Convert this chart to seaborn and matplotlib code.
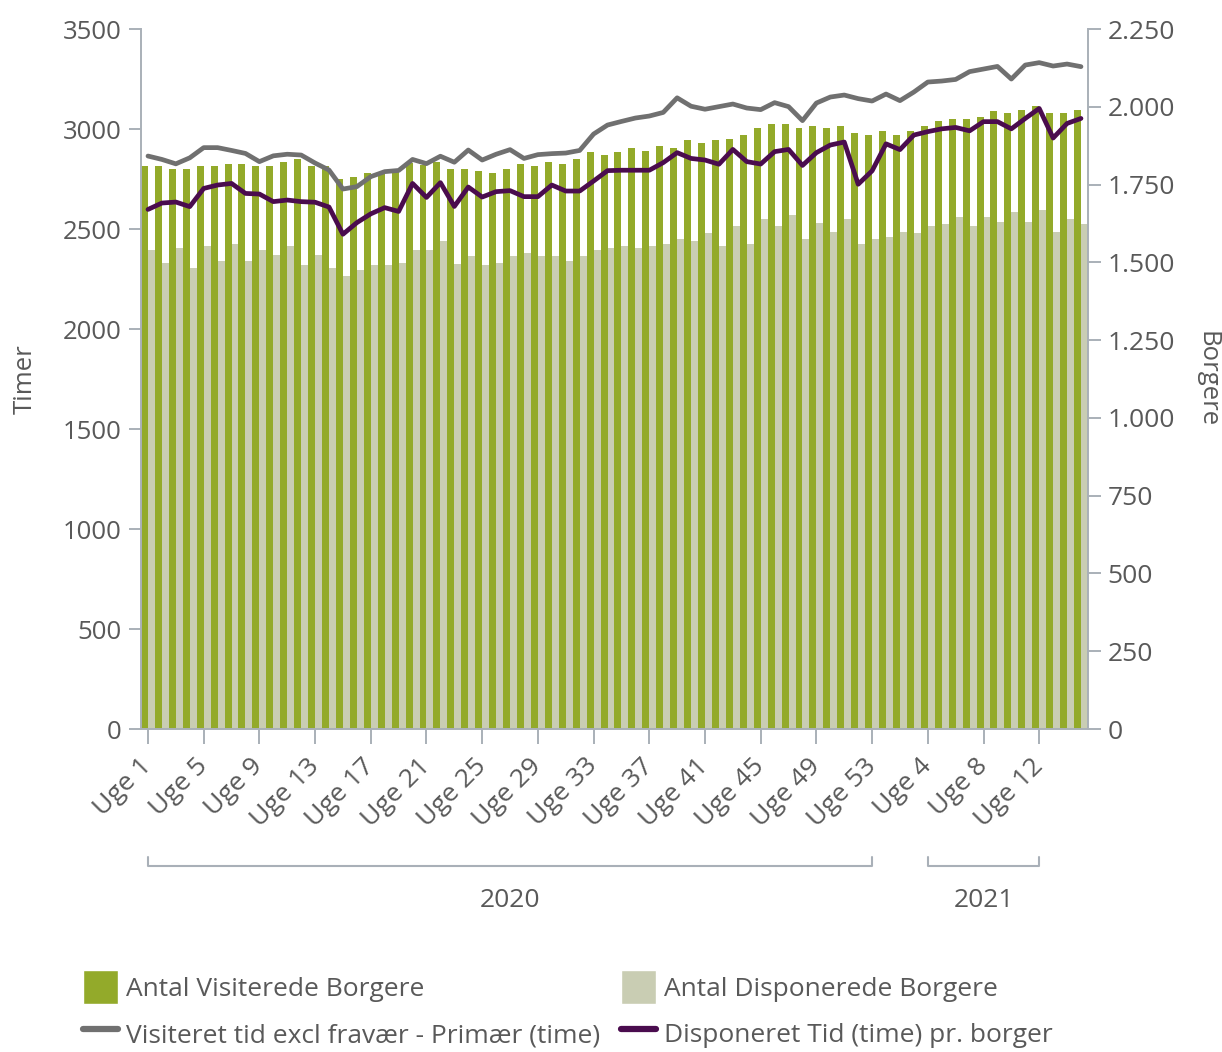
import numpy as np
import pandas as pd
import matplotlib
matplotlib.use("Agg")
import matplotlib.pyplot as plt
from matplotlib.patches import Patch
from matplotlib.lines import Line2D
from matplotlib.ticker import FuncFormatter
import seaborn as sns

# ---------------- data ----------------
weeks_2020 = list(range(1, 54))
weeks_2021 = list(range(1, 16))
week_labels = [f"Uge {w}" for w in weeks_2020 + weeks_2021]
years = ["2020"] * len(weeks_2020) + ["2021"] * len(weeks_2021)

# Left axis (Timer) - lines
visiteret_tid = [
    2865, 2848, 2826, 2856, 2907, 2907, 2893, 2878, 2837, 2866,
    2874, 2870, 2830, 2795, 2700, 2712, 2762, 2787, 2793, 2848,
    2827, 2864, 2834, 2895, 2845, 2874, 2897, 2853, 2872, 2877,
    2880, 2893, 2975, 3020, 3038, 3055, 3065, 3083, 3156, 3114,
    3099, 3112, 3125, 3105, 3097, 3132, 3112, 3042, 3130, 3160,
    3170, 3152, 3140, 3175, 3142, 3185, 3235, 3240, 3248, 3287,
    3300, 3313, 3250, 3320, 3332, 3315, 3325, 3312]
disponeret_tid = [
    2598, 2630, 2635, 2612, 2703, 2720, 2728, 2678, 2675, 2637,
    2645, 2637, 2634, 2610, 2474, 2532, 2576, 2607, 2588, 2728,
    2658, 2732, 2613, 2710, 2660, 2687, 2692, 2662, 2662, 2720,
    2690, 2690, 2740, 2792, 2794, 2794, 2794, 2832, 2882, 2853,
    2845, 2824, 2898, 2837, 2825, 2887, 2898, 2818, 2882, 2920,
    2935, 2724, 2791, 2926, 2897, 2970, 2987, 3001, 3008, 2991,
    3037, 3037, 3001, 3053, 3103, 2955, 3028, 3053]

# Right axis (Borgere) - bars
visiterede_borgere = [
    1810, 1810, 1799, 1799, 1810, 1810, 1816, 1816, 1810, 1810,
    1822, 1832, 1810, 1810, 1768, 1775, 1786, 1786, 1791, 1818,
    1813, 1824, 1799, 1799, 1794, 1788, 1799, 1816, 1811, 1822,
    1816, 1833, 1856, 1845, 1856, 1868, 1857, 1874, 1868, 1892,
    1885, 1892, 1897, 1909, 1933, 1945, 1945, 1933, 1939, 1933,
    1939, 1915, 1909, 1921, 1909, 1921, 1938, 1956, 1962, 1962,
    1968, 1985, 1980, 1991, 2003, 1980, 1980, 1991]
disponerede_borgere = [
    1540, 1499, 1545, 1481, 1553, 1504, 1558, 1504, 1540, 1523,
    1553, 1491, 1523, 1481, 1456, 1475, 1491, 1491, 1499, 1540,
    1540, 1569, 1496, 1522, 1493, 1499, 1522, 1529, 1522, 1522,
    1504, 1522, 1540, 1545, 1553, 1545, 1553, 1558, 1575, 1569,
    1593, 1553, 1617, 1558, 1640, 1617, 1651, 1574, 1627, 1599,
    1639, 1558, 1574, 1580, 1599, 1593, 1616, 1623, 1647, 1617,
    1647, 1630, 1663, 1630, 1668, 1599, 1640, 1623]

left_ticks = list(range(0, 3501, 500))
right_ticks = list(range(0, 2251, 250))
tick_every = 4

series_bar = ["Antal Visiterede Borgere", "Antal Disponerede Borgere"]
series_line = ["Visiteret tid excl fravær - Primær (time)",
               "Disponeret Tid (time) pr. borger"]

# ---------------- style ----------------
sns.set_theme(style="ticks")
plt.rcParams['font.family'] = ['Open Sans', 'DejaVu Sans']

TXT = "#595959"
AXC = "#a9b0b8"
GREEN = "#93aa2a"
LGREY = "#c9cdb3"
LINE_GREY = "#707070"
PURPLE = "#4a0c4e"

fig = plt.figure(figsize=(12.22, 10.52), dpi=100)
ax = fig.add_axes([0.1154, 0.3070, 0.7749, 0.6654])
ax2 = ax.twinx()

n = len(week_labels)
idx = np.arange(n)

bars = pd.DataFrame({
    "idx": np.concatenate([idx, idx]),
    "value": visiterede_borgere + disponerede_borgere,
    "serie": [series_bar[0]] * n + [series_bar[1]] * n,
})
sns.barplot(data=bars, x="idx", y="value", hue="serie", hue_order=series_bar,
            palette=[GREEN, LGREY], native_scale=True, dodge=True, width=1.0,
            gap=0, saturation=1, errorbar=None, linewidth=0, legend=False, ax=ax2)

sns.lineplot(x=idx, y=visiteret_tid, color=LINE_GREY, lw=3.4, ax=ax)
sns.lineplot(x=idx, y=disponeret_tid, color=PURPLE, lw=3.4, ax=ax)

ax.set_zorder(ax2.get_zorder() + 1)
ax.patch.set_visible(False)

ax.set_xlim(-0.5, n - 0.5)
ax.set_ylim(0, 3500)
ax2.set_ylim(0, 2250)

ax.set_yticks(left_ticks)
ax.set_yticklabels([str(v) for v in left_ticks])
ax2.set_yticks(right_ticks)
ax2.yaxis.set_major_formatter(FuncFormatter(lambda v, p: f"{int(v):,}".replace(",", ".")))

xt = list(range(0, n, tick_every))
ax.set_xticks(xt)
ax.set_xticklabels([week_labels[i] for i in xt], rotation=45, ha="right",
                   va="center", rotation_mode="anchor")

for s in ["top", "right"]:
    ax.spines[s].set_visible(False)
for s in ["top", "left", "bottom"]:
    ax2.spines[s].set_visible(False)
for sp in [ax.spines["left"], ax.spines["bottom"], ax2.spines["right"]]:
    sp.set_color(AXC)
    sp.set_linewidth(1.4)

ax.tick_params(axis="y", left=True, length=9, width=1.4, color=AXC,
               labelcolor=TXT, labelsize=18.5, pad=5)
ax.tick_params(axis="x", bottom=True, length=11, width=1.4, color=AXC,
               labelcolor=TXT, labelsize=19, pad=13)
ax2.tick_params(axis="y", right=True, length=9, width=1.4, color=AXC,
                labelcolor=TXT, labelsize=19, pad=5)

ax.set_xlabel("")
ax2.set_xlabel("")
ax.set_ylabel("Timer", fontsize=18.5, color=TXT, va="center")
ax.yaxis.set_label_coords(-0.1225, 0.5)
ax2.set_ylabel("Borgere", fontsize=18.5, color=TXT, rotation=270, va="center")
ax2.yaxis.set_label_coords(1.1257, 0.5)

# year brackets under the week labels
trans = ax.get_xaxis_transform()
for yr in ["2020", "2021"]:
    pos = [i for i in xt if years[i] == yr]
    x0, x1 = pos[0], pos[-1]
    ax.plot([x0, x0, x1, x1], [-0.183, -0.196, -0.196, -0.183], transform=trans,
            color=AXC, lw=1.5, clip_on=False)
    ax.text((x0 + x1) / 2, -0.245, yr, transform=trans, ha="center", va="center",
            fontsize=19, color=TXT)

handles = [
    Patch(facecolor=GREEN, label=series_bar[0]),
    Line2D([], [], color=LINE_GREY, lw=4.5, label=series_line[0]),
    Patch(facecolor=LGREY, label=series_bar[1]),
    Line2D([], [], color=PURPLE, lw=4.5, label=series_line[1]),
]
fig.legend(handles=handles, ncol=2, loc="upper left",
           bbox_to_anchor=(83 / 1222, 1 - 970 / 1052), frameon=False,
           fontsize=19, handlelength=1.33, handleheight=1.63,
           handletextpad=0.3, columnspacing=0.8, labelspacing=0.45,
           borderpad=0, borderaxespad=0, labelcolor=TXT)

fig.savefig("out.png", dpi=100, facecolor="white")
